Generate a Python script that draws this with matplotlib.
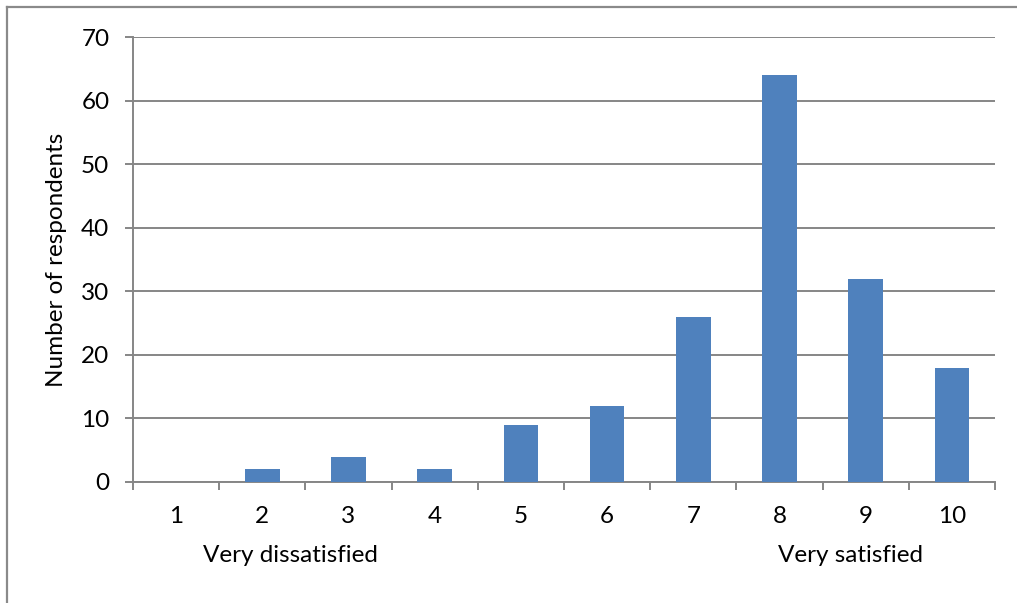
import matplotlib.pyplot as plt
from matplotlib.lines import Line2D

# Satisfaction scores and respondent counts
scores = [1, 2, 3, 4, 5, 6, 7, 8, 9, 10]
respondents = [0, 2, 4, 2, 9, 12, 26, 64, 32, 18]
y_ticks = [0, 10, 20, 30, 40, 50, 60, 70]

plt.rcParams['font.family'] = ['Lato', 'DejaVu Sans']
fs = 17.5

W, H = 1017, 603
fig = plt.figure(figsize=(W / 100, H / 100), dpi=100)
ax = fig.add_axes([133 / W, 1 - 482 / H, (995 - 133) / W, (482 - 37) / H])

grid_col = '#868686'
ax.bar(scores, respondents, width=0.4, color='#4F81BD', zorder=3)

ax.set_xlim(0.5, 10.5)
ax.set_ylim(0, 70)
ax.set_yticks(y_ticks)
ax.yaxis.grid(True, color=grid_col, linewidth=1.4, zorder=0)

# tick marks sit between categories, labels centered on bars
ax.set_xticks([s + 0.5 for s in [0] + scores], minor=True)
ax.set_xticks(scores)
ax.set_xticklabels([str(s) for s in scores])
ax.tick_params(axis='x', which='major', length=0, pad=17, labelsize=fs)
ax.tick_params(axis='x', which='minor', length=6, width=1.4, color=grid_col)
ax.tick_params(axis='y', length=6, width=1.4, color=grid_col, pad=11, labelsize=fs)

for side in ['top', 'right']:
    ax.spines[side].set_visible(False)
for side in ['left', 'bottom']:
    ax.spines[side].set_color(grid_col)
    ax.spines[side].set_linewidth(1.4)

ax.set_ylabel('Number of respondents', fontsize=fs, labelpad=10)

fig.text(290 / W, 1 - 556 / H, 'Very dissatisfied', fontsize=fs, ha='center', va='center')
fig.text(851 / W, 1 - 556 / H, 'Very satisfied', fontsize=fs, ha='center', va='center')

# chart frame (left and top edges)
fig.add_artist(Line2D([7 / W, 7 / W], [0, 1 - 7 / H], transform=fig.transFigure,
                      color='#8a8a8a', linewidth=1.6))
fig.add_artist(Line2D([7 / W, 1], [1 - 7 / H, 1 - 7 / H], transform=fig.transFigure,
                      color='#8a8a8a', linewidth=1.6))

fig.savefig('out.png', dpi=100)
